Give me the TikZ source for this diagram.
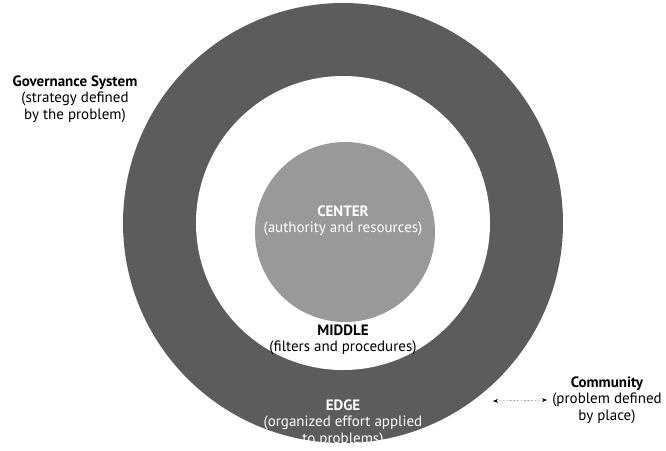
\documentclass[tikz,border=0pt]{standalone}
\usepackage{fontspec}
\setmainfont{PT Sans}
\usetikzlibrary{arrows.meta}
\definecolor{ringgray}{gray}{0.36}
\definecolor{coregray}{gray}{0.6}

\begin{document}
\begin{tikzpicture}[x=1pt,y=-1pt,
    txt/.style={align=center, font=\fontsize{15}{16.5}\selectfont, inner sep=0pt},
    whitetxt/.style={txt, text=white}]
    \useasboundingbox (0,0) rectangle (666,450);
    %RINGS
    \fill[ringgray] (343,223) circle[radius=220pt];
    \fill[white] (343,223) circle[radius=147pt];
    \fill[coregray] (345,232) circle[radius=90pt];
    %LABELS
    \node[whitetxt] (center) at (343,221) {\textbf{CENTER}\\(authority and resources)};
    \node[txt] (middle) at (343,340) {\textbf{MIDDLE}\\(filters and procedures)};
    \node[whitetxt] (edge) at (343,423) {\textbf{EDGE}\\(organized effort applied\\to problems)};
    \node[txt] (governance) at (75,99) {\textbf{Governance System}\\(strategy defined\\by the problem)};
    \node[txt] (community) at (607,400) {\textbf{Community}\\(problem defined\\by place)};
    %ARROW
    \coordinate (ringside) at (493,401);
    \draw[densely dotted, {Stealth[length=5pt]}-{Stealth[length=5pt]}] (ringside) -- ([xshift=-5pt]community.west);
\end{tikzpicture}
\end{document}
